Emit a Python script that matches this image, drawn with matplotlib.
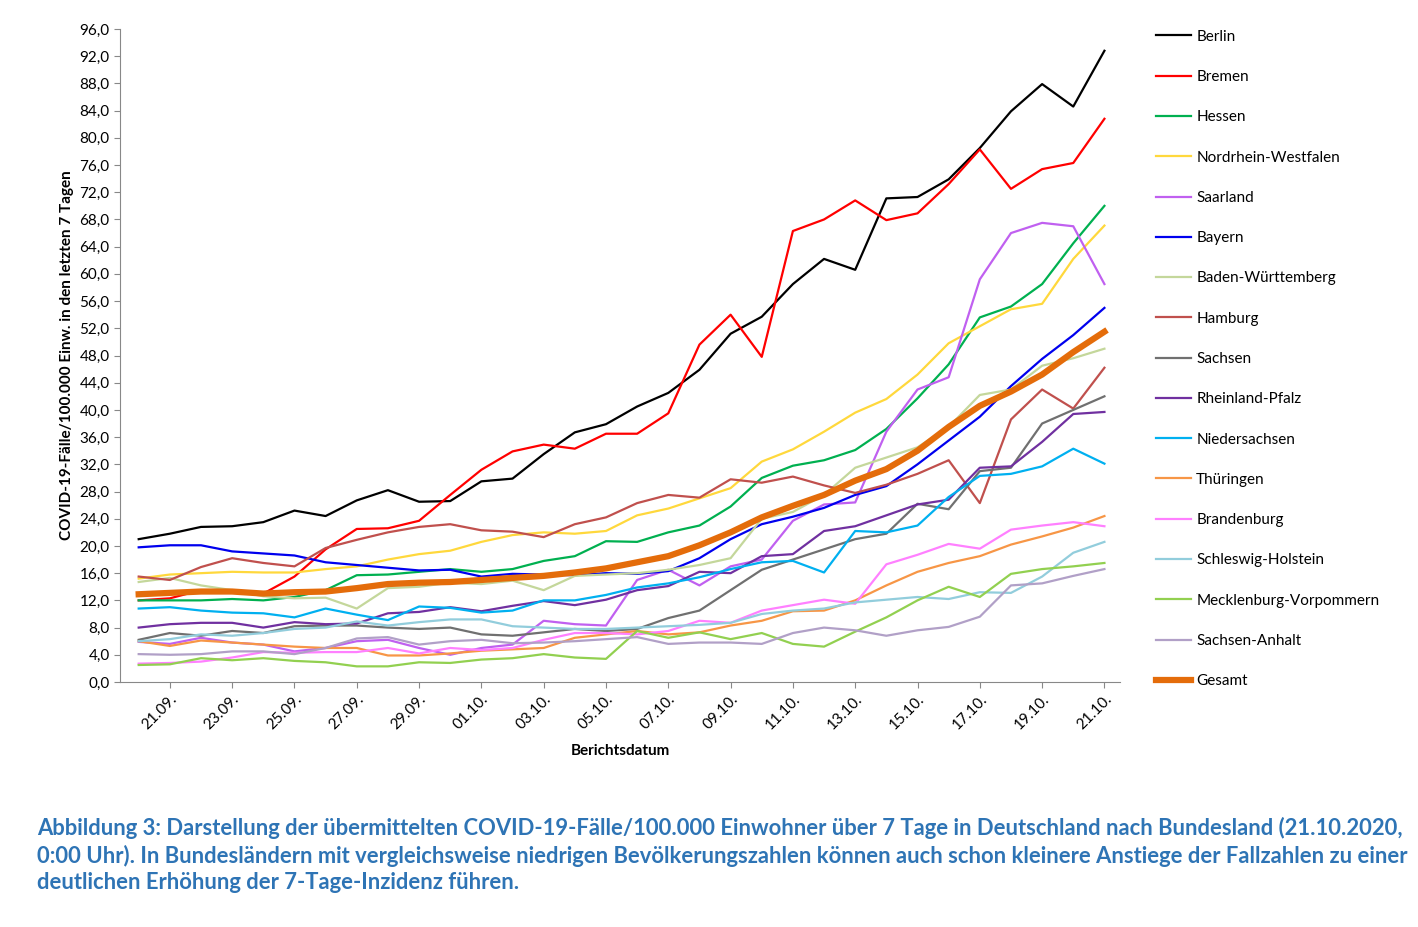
import matplotlib
matplotlib.use("Agg")
import matplotlib.pyplot as plt
import pandas as pd

plt.rcParams['font.family'] = ['Lato', 'DejaVu Sans']

dates = pd.date_range("2020-09-20", "2020-10-21", freq="D")
tick_labels = [d.strftime("%d.%m.") for d in dates]

berlin = [21.0,21.8,22.8,22.9,23.5,25.2,24.4,26.7,28.2,26.5,26.6,29.5,29.9,33.5,36.7,37.9,40.5,42.5,45.9,51.2,53.7,58.5,62.2,60.6,71.1,71.3,73.9,78.5,83.9,87.9,84.6,92.8]
bremen = [12.0,12.3,13.5,13.2,13.0,15.5,19.5,22.5,22.6,23.7,27.5,31.2,33.9,34.9,34.3,36.5,36.5,39.5,49.6,54.0,47.8,66.3,68.0,70.8,67.9,68.9,73.2,78.3,72.5,75.4,76.3,82.8]
hessen = [12.0,12.0,12.0,12.2,12.0,12.5,13.5,15.7,15.8,16.2,16.6,16.2,16.6,17.8,18.5,20.7,20.6,22.0,23.0,25.8,30.0,31.8,32.6,34.1,37.2,41.7,46.7,53.6,55.2,58.5,64.5,70.0]
nrw = [15.2,15.8,16.0,16.2,16.1,16.1,16.6,17.0,18.0,18.8,19.3,20.6,21.6,22.0,21.8,22.2,24.5,25.5,27.0,28.5,32.4,34.2,36.8,39.6,41.6,45.2,49.8,52.3,54.8,55.6,62.2,67.1]
saarland = [5.9,5.6,6.5,5.8,5.5,4.5,5.0,6.0,6.2,5.0,4.0,5.0,5.5,9.0,8.5,8.3,15.0,16.5,14.2,17.0,18.0,23.7,26.1,26.4,36.8,43.0,44.8,59.2,66.0,67.5,67.0,58.5]
bayern = [19.8,20.1,20.1,19.2,18.9,18.6,17.6,17.2,16.8,16.4,16.5,15.5,15.9,15.8,15.7,16.0,15.9,16.3,18.2,21.0,23.2,24.3,25.6,27.5,28.8,32.0,35.5,39.0,43.5,47.5,51.0,55.0]
bw = [14.7,15.3,14.2,13.5,12.6,12.3,12.4,10.8,13.8,14.0,14.6,14.4,14.9,13.5,15.6,15.8,16.0,16.5,17.2,18.2,24.0,25.0,27.5,31.5,33.0,34.5,37.5,42.2,43.0,46.5,47.6,49.0]
hamburg = [15.5,15.0,16.9,18.2,17.5,17.0,19.7,20.9,22.0,22.8,23.2,22.3,22.1,21.3,23.2,24.2,26.3,27.5,27.1,29.8,29.3,30.2,28.9,27.8,29.0,30.6,32.6,26.3,38.6,43.0,40.2,46.2]
sachsen = [6.2,7.2,6.8,7.5,7.2,8.2,8.3,8.3,8.0,7.8,8.0,7.0,6.8,7.3,7.8,7.5,7.8,9.4,10.5,13.5,16.5,18.0,19.5,21.0,21.8,26.2,25.4,31.0,31.5,38.0,40.0,42.0]
rp = [8.0,8.5,8.7,8.7,8.0,8.8,8.5,8.6,10.1,10.3,11.0,10.4,11.2,11.9,11.3,12.1,13.5,14.1,16.2,16.0,18.5,18.8,22.2,22.9,24.5,26.1,26.8,31.5,31.7,35.3,39.4,39.7]
nds = [10.8,11.0,10.5,10.2,10.1,9.5,10.8,9.9,9.1,11.1,10.9,10.2,10.5,12.0,12.0,12.8,13.9,14.5,15.4,16.6,17.6,17.8,16.1,22.2,22.0,23.0,27.2,30.3,30.6,31.7,34.3,32.1]
thueringen = [6.0,5.3,6.1,5.8,5.5,5.2,5.0,5.0,3.9,3.9,4.2,4.6,4.8,5.0,6.5,7.0,7.5,7.0,7.3,8.3,9.0,10.4,10.5,12.0,14.2,16.2,17.5,18.5,20.2,21.4,22.7,24.4]
brandenburg = [2.7,2.8,3.0,3.6,4.4,4.3,4.4,4.4,5.0,4.2,5.0,4.7,5.0,6.2,7.2,7.2,7.0,7.5,9.0,8.7,10.5,11.3,12.1,11.5,17.3,18.7,20.3,19.6,22.4,23.0,23.5,22.9]
sh = [6.0,6.3,7.0,6.8,7.2,7.8,8.0,8.9,8.3,8.8,9.2,9.2,8.2,8.0,7.8,7.8,8.0,8.2,8.4,8.7,10.0,10.5,10.8,11.7,12.1,12.5,12.2,13.2,13.1,15.5,19.0,20.6]
mv = [2.5,2.6,3.5,3.2,3.5,3.1,2.9,2.3,2.3,2.9,2.8,3.3,3.5,4.1,3.6,3.4,7.5,6.5,7.3,6.3,7.2,5.6,5.2,7.4,9.5,12.0,14.0,12.5,15.9,16.6,17.0,17.5]
st = [4.1,4.0,4.1,4.5,4.5,4.1,5.0,6.4,6.6,5.5,6.0,6.2,5.7,5.8,6.0,6.3,6.6,5.6,5.8,5.8,5.6,7.2,8.0,7.6,6.8,7.6,8.1,9.6,14.2,14.5,15.6,16.6]
gesamt = [12.9,13.1,13.3,13.3,13.0,13.2,13.3,13.8,14.4,14.6,14.7,15.0,15.3,15.6,16.1,16.7,17.6,18.5,20.1,22.0,24.2,25.9,27.5,29.6,31.3,34.0,37.5,40.6,42.7,45.2,48.5,51.5]

series = [
    ("Berlin", berlin, "#000000"),
    ("Bremen", bremen, "#ff0000"),
    ("Hessen", hessen, "#00b050"),
    ("Nordrhein-Westfalen", nrw, "#ffd83c"),
    ("Saarland", saarland, "#c060f0"),
    ("Bayern", bayern, "#0000ee"),
    ("Baden-Württemberg", bw, "#c4d79b"),
    ("Hamburg", hamburg, "#c0504d"),
    ("Sachsen", sachsen, "#707070"),
    ("Rheinland-Pfalz", rp, "#7030a0"),
    ("Niedersachsen", nds, "#00b0f0"),
    ("Thüringen", thueringen, "#f79646"),
    ("Brandenburg", brandenburg, "#ff80ff"),
    ("Schleswig-Holstein", sh, "#92cddc"),
    ("Mecklenburg-Vorpommern", mv, "#92d050"),
    ("Sachsen-Anhalt", st, "#b1a0c7"),
]

fig = plt.figure(figsize=(14.18, 9.27), dpi=100)
ax = fig.add_axes([120/1418, 1-682/927, 1000/1418, (682-29)/927])
x = list(range(len(dates)))
for name, vals, col in series:
    ax.plot(x, vals, color=col, lw=1.6, label=name)
ax.plot(x, gesamt, color="#e46c0a", lw=4.5, label="Gesamt")

ax.set_ylim(0, 96)
ax.set_yticks(range(0, 97, 4))
ax.set_yticklabels([f"{v},0" for v in range(0, 97, 4)], fontsize=11)
ax.set_xlim(-0.6, 31.5)
ax.set_xticks(x[1::2])
ax.set_xticklabels(tick_labels[1::2], rotation=45, ha="right", rotation_mode="anchor", fontsize=11)
ax.tick_params(axis='x', length=4, color="#888888")
ax.tick_params(axis='y', length=4, color="#888888")
for s in ["top", "right"]:
    ax.spines[s].set_visible(False)
for s in ["left", "bottom"]:
    ax.spines[s].set_color("#888888")
ax.set_xlabel("Berichtsdatum", fontsize=11, fontweight="bold", labelpad=8)
ax.set_ylabel("COVID-19-Fälle/100.000 Einw. in den letzten 7 Tagen", fontsize=11, fontweight="bold", labelpad=4)

fig.legend(loc="upper left", bbox_to_anchor=(1142/1418, 1-16/927), frameon=False,
           fontsize=11, handlelength=2.3, labelspacing=1.72, handletextpad=0.35)

cap = ("Abbildung 3: Darstellung der übermittelten COVID-19-Fälle/100.000 Einwohner über 7 Tage in Deutschland nach Bundesland (21.10.2020,\n"
       "0:00 Uhr). In Bundesländern mit vergleichsweise niedrigen Bevölkerungszahlen können auch schon kleinere Anstiege der Fallzahlen zu einer\n"
       "deutlichen Erhöhung der 7-Tage-Inzidenz führen.")
fig.text(37/1418, 1-817/927, cap, fontsize=15.8, fontweight="bold", color="#2e74b5",
         va="top", ha="left", linespacing=1.3)

fig.savefig("out.png", dpi=100)
